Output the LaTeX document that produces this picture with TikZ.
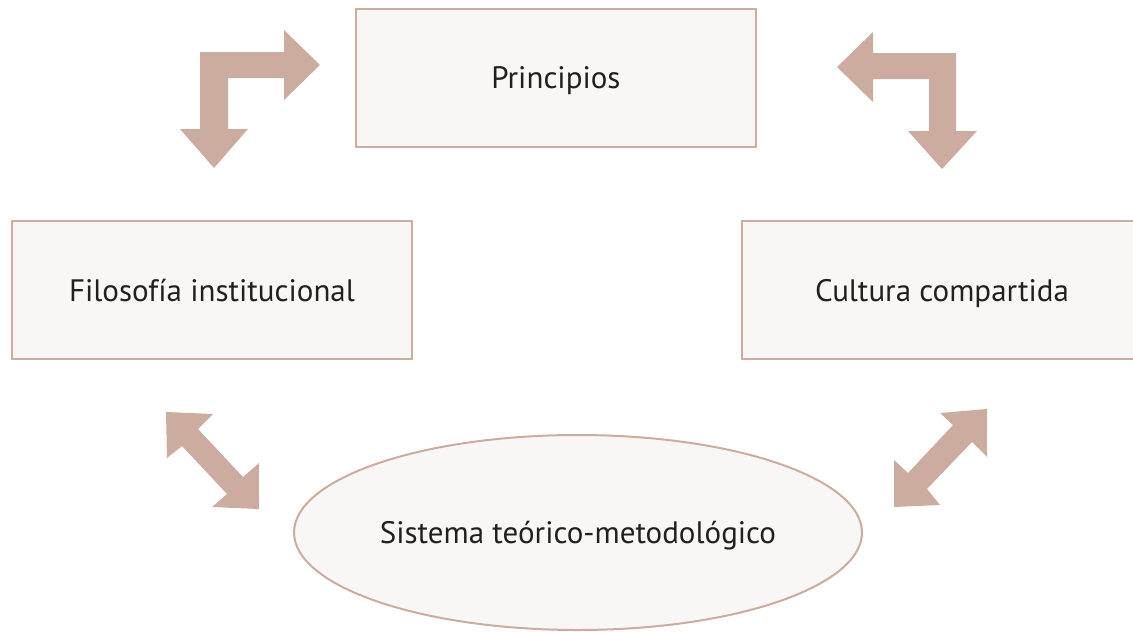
\documentclass[tikz,border=0pt]{standalone}
\usepackage{fontspec}
\setmainfont{PT Sans}
\usetikzlibrary{shapes.geometric}
\definecolor{taupe}{RGB}{203,172,158}
\definecolor{paper}{RGB}{248,247,245}
\definecolor{ink}{RGB}{35,31,32}
\tikzset{
	box/.style={draw=taupe, line width=2pt, fill=paper, text=ink,
		minimum width=400pt, minimum height=138pt, inner sep=0pt,
		text depth=0pt, font=\fontsize{31}{36}\selectfont},
	oval/.style={ellipse, draw=taupe, line width=2pt, fill=paper, text=ink,
		minimum width=568pt, minimum height=195pt, inner sep=0pt,
		text depth=0pt, font=\fontsize{31}{36}\selectfont},
	blockarrow/.style={fill=taupe, draw=none},
}
\begin{document}
\begin{tikzpicture}[x=1pt, y=-1pt]
		\useasboundingbox (0,0) rectangle (1133,632);
		\node[box] (principios) at (556,77.5) {Principios};
		\node[box] (filosofia) at (212,290) {Filosofía institucional};
		\node[box] (cultura) at (942,290) {Cultura compartida};
		\node[oval] (sistema) at (578,532.5) {Sistema teórico-metodológico};
		%
		\fill[blockarrow] (214,168) -- (248,129) -- (228,129) -- (228,78)
			-- (284,78) -- (284,100) -- (320,65) -- (284,30) -- (284,52)
			-- (200,52) -- (200,129) -- (180,129) -- cycle;
		\fill[blockarrow] (837,67) -- (873,32) -- (873,53) -- (956,53)
			-- (956,131) -- (977,131) -- (942,169) -- (908,131) -- (929,131)
			-- (929,79) -- (873,79) -- (873,102) -- cycle;
		%
		\fill[blockarrow] (166,412) -- (213,414) -- (198,429) -- (243,477)
			-- (259,463) -- (259,509) -- (212,507) -- (227,494) -- (182,446)
			-- (167,458) -- cycle;
		\fill[blockarrow] (987,409) -- (987,457) -- (972,442) -- (927,489)
			-- (940,505) -- (894,507) -- (894,460) -- (908,473) -- (953,425)
			-- (940,413) -- cycle;
	\end{tikzpicture}
\end{document}
